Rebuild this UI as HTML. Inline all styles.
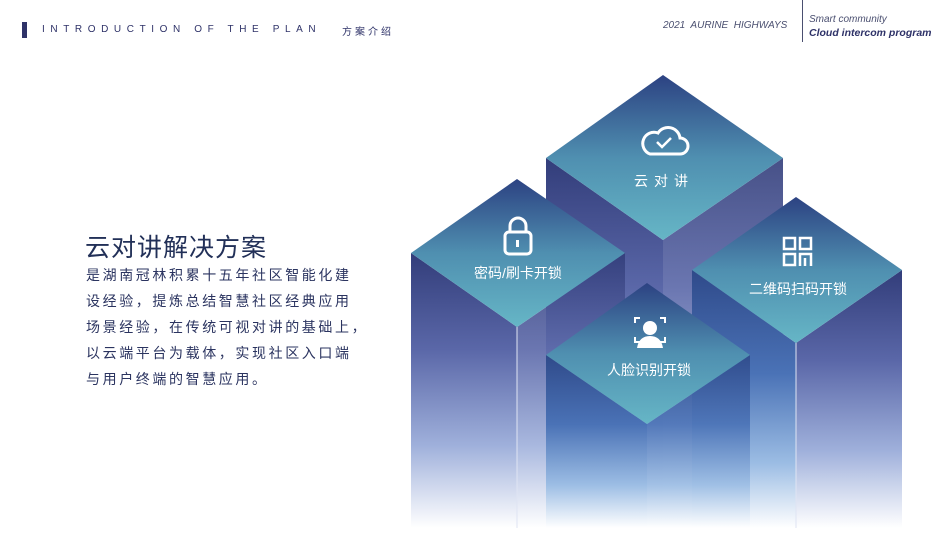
<!DOCTYPE html>
<html><head><meta charset="utf-8"><style>
body{margin:0;width:950px;height:534px;background:#fff;position:relative;overflow:hidden;font-family:"Liberation Sans","Noto Sans CJK SC",sans-serif}
.a{position:absolute;white-space:nowrap}
</style></head><body>
<div class="a" style="left:22px;top:22px;width:5px;height:16px;background:#2e3268"></div>
<div class="a" style="left:42px;top:24px;font-size:10px;letter-spacing:5.6px;color:#2e3268">INTRODUCTION OF THE PLAN</div>
<div class="a" style="left:342px;top:23px;font-size:10px;letter-spacing:3px;color:#2e3268">方案介绍</div>
<div class="a" style="left:663px;top:20px;font-size:10px;font-style:italic;color:#4a4f70;letter-spacing:0px">2021&nbsp; AURINE&nbsp; HIGHWAYS</div>
<div class="a" style="left:802px;top:0;width:1px;height:42px;background:#4a4f70"></div>
<div class="a" style="left:809px;top:14px;font-size:10px;font-style:italic;color:#4a4f70">Smart community</div>
<div class="a" style="left:809px;top:27px;font-size:10.5px;font-style:italic;font-weight:bold;color:#2e3268">Cloud intercom program</div>
<div class="a" style="left:85px;top:228px;font-size:25px;color:#223058;letter-spacing:1px">云对讲解决方案</div>
<div class="a" style="left:86px;top:262px;font-size:14px;line-height:26px;color:#2b3460;letter-spacing:2.6px">是湖南冠林积累十五年社区智能化建<br>设经验，提炼总结智慧社区经典应用<br>场景经验，在传统可视对讲的基础上，<br>以云端平台为载体，实现社区入口端<br>与用户终端的智慧应用。</div>
<svg class="a" style="left:0;top:0" width="950" height="534">
<defs>
<linearGradient id="t" x1="0" y1="0" x2="0" y2="1"><stop offset="0" stop-color="#2c4282"/><stop offset="0.5" stop-color="#4f8fb0"/><stop offset="1" stop-color="#66b6c6"/></linearGradient>
<linearGradient id="s" x1="0" y1="0" x2="0" y2="1"><stop offset="0" stop-color="#323d7a"/><stop offset="0.35" stop-color="#5a67a8"/><stop offset="0.7" stop-color="#9fb0db"/><stop offset="1" stop-color="#ffffff"/></linearGradient>
<linearGradient id="s2" x1="0" y1="0" x2="0" y2="1"><stop offset="0" stop-color="#2f4a8a"/><stop offset="0.4" stop-color="#4a72b6"/><stop offset="0.75" stop-color="#9cbde4"/><stop offset="1" stop-color="#ffffff"/></linearGradient>
</defs>
<polygon points="546,158 663,240 663,528 546,528" fill="url(#s)"/>
<polygon points="663,240 783,158 783,528 663,528" fill="url(#s)" opacity="0.9"/>
<polygon points="663,75 783,158 663,240 546,158" fill="url(#t)"/>
<polygon points="411,253 517,327 517,528 411,528" fill="url(#s)"/>
<polygon points="517,327 625,253 625,528 517,528" fill="url(#s)" opacity="0.9"/>
<line x1="517" y1="327" x2="517" y2="528" stroke="#dfe4f3" stroke-width="1"/>
<polygon points="517,179 625,253 517,327 411,253" fill="url(#t)"/>
<polygon points="692,270 796,343 796,528 692,528" fill="url(#s2)"/>
<polygon points="796,343 902,270 902,528 796,528" fill="url(#s)"/>
<line x1="796" y1="343" x2="796" y2="528" stroke="#dfe4f3" stroke-width="1"/>
<polygon points="796,197 902,270 796,343 692,270" fill="url(#t)"/>
<polygon points="546,355 647,424 647,528 546,528" fill="url(#s2)"/>
<polygon points="647,424 750,355 750,528 647,528" fill="url(#s2)" opacity="0.9"/>
<polygon points="647,283 750,355 647,424 546,355" fill="url(#t)"/>
<path d="M650,154 h30 a8,8 0 0 0 0,-16 a12,12 0 0 0 -22,-5 a9,9 0 0 0 -8,21 z" fill="none" stroke="#fff" stroke-width="3"/>
<path d="M657,142 l5,5 l9,-9" fill="none" stroke="#fff" stroke-width="2.5"/>
<rect x="505" y="232" width="26" height="22" rx="4" fill="none" stroke="#fff" stroke-width="3"/>
<path d="M510,232 v-6 a8,8 0 0 1 16,0 v6" fill="none" stroke="#fff" stroke-width="3"/>
<rect x="516" y="240" width="3" height="7" fill="#fff"/>
<g fill="none" stroke="#fff" stroke-width="2.5"><rect x="784" y="238" width="11" height="11"/><rect x="800" y="238" width="11" height="11"/><rect x="784" y="254" width="11" height="11"/><path d="M800,266 v-12 h11 v12 M805,258 v8"/></g>
<g fill="none" stroke="#fff" stroke-width="2"><path d="M635,323 v-5 h5 M660,318 h5 v5 M635,337 v5 h5 M660,342 h5 v-5"/></g>
<circle cx="650" cy="328" r="7" fill="#fff"/><path d="M637,348 q2,-12 13,-12 q11,0 13,12 z" fill="#fff"/>
<g fill="#fff" font-size="14" font-family="Liberation Sans,Noto Sans CJK SC,sans-serif" text-anchor="middle">
<text x="664" y="186" letter-spacing="6">云对讲</text>
<text x="518" y="278">密码/刷卡开锁</text>
<text x="798" y="294">二维码扫码开锁</text>
<text x="649" y="375">人脸识别开锁</text>
</g>
</svg>
</body></html>
